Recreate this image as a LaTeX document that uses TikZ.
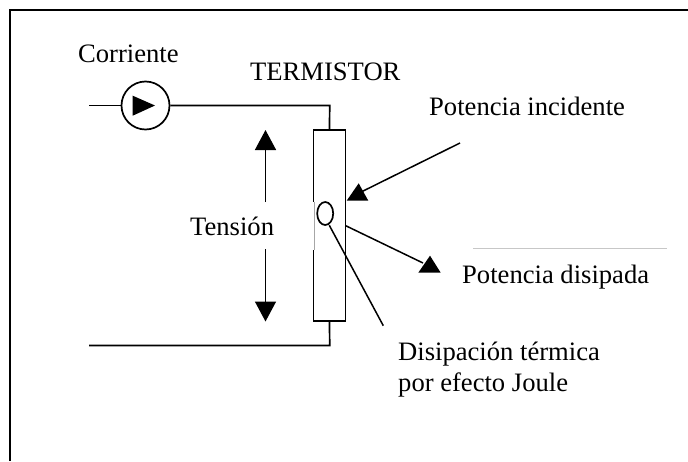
\documentclass[tikz,border=0pt]{standalone}
\usepackage{fontspec}
\setmainfont{Liberation Serif}
\usetikzlibrary{arrows.meta,shapes.geometric}
\tikzset{
  wire/.style={draw=black,line width=1.7pt},
  thinwire/.style={draw=black,line width=1.5pt},
  lab/.style={inner sep=0pt,font=\fontsize{26.6}{30}\selectfont,text=black},
  solidtip/.style={-{Triangle[length=20pt,width=21pt,sep=0pt]},shorten >=0pt}
}
\begin{document}
\begin{tikzpicture}[x=1pt,y=-1pt]
\useasboundingbox (0,0) rectangle (688,461);
\fill[white] (0,0) rectangle (688,461);
\coordinate (fbl) at (9.5,461);
\coordinate (ftl) at (9.5,9.5);
\coordinate (ftr) at (688,9.5);
\draw[wire,line width=2pt] (fbl) -- (ftl) -- (ftr);
% source
\node[circle,draw=black,line width=1.7pt,minimum size=48pt,inner sep=0pt] (src) at (145.5,105.5) {};
\coordinate (inL) at (89,105.5);
\coordinate (bL) at (89,345.5);
\coordinate (tt) at (329.7,105.5);
\coordinate (tb) at (329.7,345.5);
\fill[black] (132.7,95.7) -- (155,105.5) -- (132.7,115.7) -- cycle;
% thermistor
\node[draw=black,line width=1.7pt,minimum width=32pt,minimum height=191pt,inner sep=0pt] (th) at (329.5,225.2) {};
\draw[wire] (inL) -- (src.west);
\draw[wire] (src.east) -- (tt) -- (th.north);
\draw[wire] (th.south) -- (tb) -- (bL);
% window in the left side
\fill[white] (312,201.7) rectangle (314.6,250);
\draw[draw=black!35,line width=0.5pt] (314.6,201.7) -- (314.6,250);
\node[ellipse,draw=black,line width=1.7pt,minimum width=16pt,minimum height=23pt,inner sep=0pt] (spot) at (325.2,213.5) {};
% labels
\node[lab,anchor=base west] (cor) at (78,62) {Corriente};
\node[lab,anchor=base west] (ter) at (250,80) {TERMISTOR};
\node[lab,anchor=base west] (inc) at (429,115) {Potencia incidente};
\node[lab,anchor=base west] (ten) at (190,235) {Tensión};
\node[lab,anchor=base west] (dis) at (462,283) {Potencia disipada};
\node[lab,anchor=base west] (jo1) at (398,360) {Disipación térmica};
\node[lab,anchor=base west] (jo2) at (398,391) {por efecto Joule};
% voltage arrows
\coordinate (vtop) at (265.5,130);
\coordinate (vup) at (265.5,202);
\coordinate (vdn) at (265.5,249);
\coordinate (vbot) at (265.5,321.5);
\draw[thinwire,solidtip] (vup) -- (vtop);
\draw[thinwire,solidtip] (vdn) -- (vbot);
% power arrows (heads stay upright, as in the reference)
\coordinate (iTail) at (460,143);
\coordinate (iHead) at (361.7,191.7);
\coordinate (dTail) at (345.7,225.7);
\coordinate (dHead) at (423,263);
\draw[thinwire] (iTail) -- (iHead);
\fill[black] (346.7,200.7) -- (358.7,183.3) -- (368.3,200.7) -- cycle;
\draw[thinwire] (dTail) -- (dHead);
\fill[black] (418.3,272.7) -- (430,255.7) -- (440.7,272.7) -- cycle;
\coordinate (jStart) at (329.3,225.3);
\coordinate (jEnd) at (383.3,325.7);
\draw[thinwire] (jStart) -- (jEnd);
% faint rule
\coordinate (r1) at (473.3,248.4);
\coordinate (r2) at (666.7,248.4);
\draw[draw=black!22,line width=0.6pt] (r1) -- (r2);
\end{tikzpicture}
\end{document}
